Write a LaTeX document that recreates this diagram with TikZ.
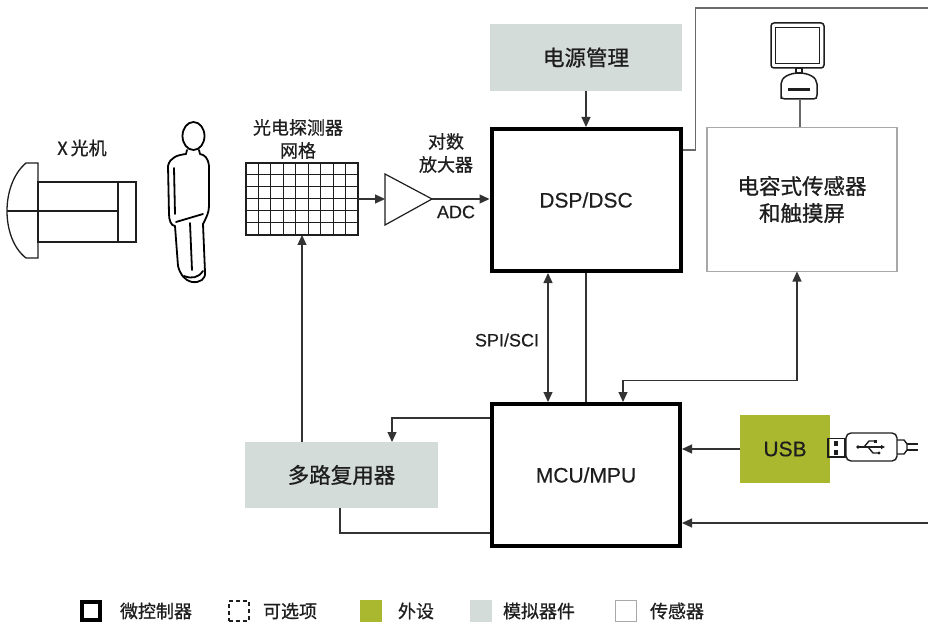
\documentclass[tikz,border=0pt]{standalone}
\usepackage{fontspec}
\setmainfont{Liberation Sans}[FakeBold=0.4]
\newfontfamily\cjk{Noto Sans CJK SC}[FakeBold=0.8]
\usetikzlibrary{arrows.meta}
\definecolor{ink}{HTML}{1E1E1E}
\definecolor{wire}{HTML}{333333}
\definecolor{frame}{HTML}{6A6A6A}
\definecolor{analog}{HTML}{D3DCD8}
\definecolor{periph}{HTML}{A9B82E}
\definecolor{sensorline}{HTML}{A8A8A8}

\begin{document}
\begin{tikzpicture}[x=1pt,y=-1pt,
  every node/.style={inner sep=0pt, outer sep=0pt, text=ink},
  mcubox/.style={draw=black, line width=4pt, outer sep=2pt, fill=white},
  analogbox/.style={fill=analog},
  periphbox/.style={fill=periph},
  sensorbox/.style={draw=sensorline, line width=1.5pt},
  wirea/.style={draw=wire, line width=1.2pt},
  wireg/.style={draw=frame, line width=1.4pt},
  tip/.style={-{Triangle[length=10pt,width=9pt]}},
  arr/.style={wirea, tip},
  barr/.style={wirea, {Triangle[length=10pt,width=9pt]}-{Triangle[length=10pt,width=9pt]}},
  icon/.style={draw=ink, line width=1.3pt},
  big/.style={font=\fontsize{21}{26}\selectfont},
  zh/.style={font=\cjk\fontsize{21.5}{27}\selectfont, align=center},
  zhs/.style={font=\cjk\fontsize{18}{23}\selectfont, align=center},
  lbl/.style={font=\fontsize{18}{22}\selectfont},
  legtext/.style={font=\cjk\fontsize{18}{22}\selectfont, anchor=west}]

\useasboundingbox (0,0) rectangle (928,628);
\fill[white] (0,0) rectangle (928,628);

% ---------- X-ray source ----------
\node[zhs] (xraylbl) at (82,148) {X\,光机};
\draw[icon] (38,163) -- (26,163) .. controls (13,174) and (7,193) .. (7,211)
  .. controls (7,229) and (13,248) .. (26,258) -- (38,258) -- cycle;
\draw[icon] (38,182) rectangle (136,242);
\draw[icon] (118,182) -- (118,242);
\draw[icon] (7,211) -- (118,211);

% ---------- person ----------
\begin{scope}[line width=1.8pt, line join=round, line cap=round]
  \draw (193.5,136) ellipse [x radius=11, y radius=14];
  \draw (187,150) -- (186,154) .. controls (178,155) and (170,157) .. (168,166)
    -- (169,214) .. controls (169,220) and (171,226) .. (175,226)
    -- (178,266) .. controls (180,274) and (184,280) .. (192,282)
    .. controls (200,283) and (206,279) .. (205,272)
    -- (203,224) .. controls (206,218) and (209,213) .. (209,206)
    -- (209,166) .. controls (208,158) and (205,155) .. (200,154) -- (199,150);
  \draw (174,168) -- (175,214);
  \draw (176,222) -- (203,214);
  \draw (190,223) -- (192,270);
  \draw (184,276) .. controls (192,279) and (198,278) .. (203,271);
\end{scope}

% ---------- detector grid ----------
\node[zhs] (gridlbl) at (298,139) {光电探测器\\网格};
\node[draw=ink, line width=1.2pt, minimum width=112pt, minimum height=72pt] (grid) at (302,199) {};
\foreach \i in {1,...,8} \draw[ink, line width=1pt] (246+\i*12.44,163) -- ++(0,72);
\foreach \j in {1,...,5} \draw[ink, line width=1pt] (246,163+\j*12) -- ++(112,0);

% ---------- log amplifier ----------
\coordinate (ampin) at (385,199);
\coordinate (ampout) at (432,199);
\draw[ink, line width=1.2pt, fill=white] (385,174) -- (ampout) -- (385,225) -- cycle;
\node[zhs] (amplbl) at (446,153) {对数\\放大器};
\node[lbl] (adclbl) at (456,212) {ADC};

% ---------- main blocks ----------
\node[analogbox, minimum width=192pt, minimum height=67pt] (power) at (586,57.5) {};
\node[zh] at (power) {电源管理};
\node[mcubox, minimum width=189pt, minimum height=142pt] (dsp) at (586,200) {};
\node[big] at (dsp) {DSP/DSC};
\node[sensorbox, minimum width=190pt, minimum height=144pt] (sensor) at (802,199.5) {};
\node[zh] at (sensor) {电容式传感器\\和触摸屏};
\node[mcubox, minimum width=188pt, minimum height=142pt] (mcu) at (586,475) {};
\node[big] at (mcu) {MCU/MPU};
\node[analogbox, minimum width=193pt, minimum height=66pt] (mux) at (341.5,475) {};
\node[zh] at (mux) {多路复用器};
\node[periphbox, minimum width=90pt, minimum height=68pt] (usb) at (785,449) {};
\node[big] at (usb) {USB};
\node[lbl] (spilbl) at (507,340) {SPI/SCI};

% ---------- monitor ----------
\begin{scope}[icon, line width=1.5pt]
  \draw[rounded corners=3pt] (771,23) rectangle (824,68);
  \draw (775.5,27.5) rectangle (819.5,63.5);
  \draw (796,68) rectangle (802,73);
  \draw (781,99) -- (781,84) .. controls (781,77) and (790,73) .. (799,73)
    .. controls (808,73) and (817,77) .. (817,84) -- (817,95)
    .. controls (817,98) and (816,99) .. (813,99) -- (785,99)
    .. controls (782,99) and (781,98) .. (781,95);
  \draw[line width=2.6pt] (788,89.5) -- (810,89.5);
\end{scope}
\coordinate (monbase) at (800,99);

% ---------- USB plug ----------
\begin{scope}[icon, line width=1.4pt]
  \draw (828,438.5) rectangle (845,457);
  \fill[ink] (834,441) rectangle (838,446);
  \fill[ink] (834,450) rectangle (838,455);
  \draw[rounded corners=5pt] (846,433) rectangle (897,461);
  \draw[-{Triangle[length=4pt,width=4pt]}] (858,447) -- (885,447);
  \fill[ink] (858,447) circle (1.8);
  \draw (864,447) -- (869,441) -- (875,441);
  \fill[ink] (874,439.5) rectangle (877,442.5);
  \draw (868,447) -- (873,453) -- (878,453);
  \fill[ink] (879,453) circle (1.6);
  \draw (897,440) -- (904,440) -- (907,444) -- (907,450) -- (904,454) -- (897,454);
  \draw (907,444) -- (918,444);
  \draw (907,450) -- (918,450);
\end{scope}

% ---------- connectors ----------
\coordinate (topright) at (928,8);
\coordinate (rightin) at (928,523);
\draw[arr] (grid.east |- ampin) -- (ampin);
\draw[arr] (ampout) -- (ampout -| dsp.west);
\draw[arr] (power) -- (dsp);
\draw[wireg] ([yshift=-23pt]dsp.north east) -- ++(13,0) |- (topright);
\draw[wireg] (monbase) -- (monbase |- sensor.north);
\draw[barr] ([xshift=-38pt]dsp.south) -- ([xshift=-38pt]mcu.north);
\draw[wirea] (dsp.south) -- (mcu.north);
\draw[barr] ([xshift=-5pt]sensor.south) -- ++(0,109) -| ([xshift=37pt]mcu.north);
\draw[arr] ([yshift=-16pt]mcu.north west) -| ([xshift=50.5pt]mux.north);
\draw[arr] (grid.south |- mux.north) -- (grid.south);
\draw[wirea] ([xshift=-1.5pt]mux.south) |- ([yshift=15pt]mcu.south west);
\draw[arr] (usb.west) -- (usb.west -| mcu.east);
\draw[arr] (rightin) -- (rightin -| mcu.east);

% ---------- legend ----------
\node[draw=black, line width=4pt, minimum size=18pt] (lg1) at (91,611) {};
\node[legtext] at (120,611) {微控制器};
\node[draw=ink, line width=2pt, dash pattern=on 4pt off 3pt, minimum size=20pt] (lg2) at (238.5,611) {};
\node[legtext] at (263,611) {可选项};
\node[fill=periph, minimum size=22pt] (lg3) at (371,611) {};
\node[legtext] at (398,611) {外设};
\node[fill=analog, minimum size=22pt] (lg4) at (481,611) {};
\node[legtext] at (503,611) {模拟器件};
\node[draw=sensorline, line width=1.2pt, minimum size=21pt] (lg5) at (626,611) {};
\node[legtext] at (650,611) {传感器};
\end{tikzpicture}
\end{document}
